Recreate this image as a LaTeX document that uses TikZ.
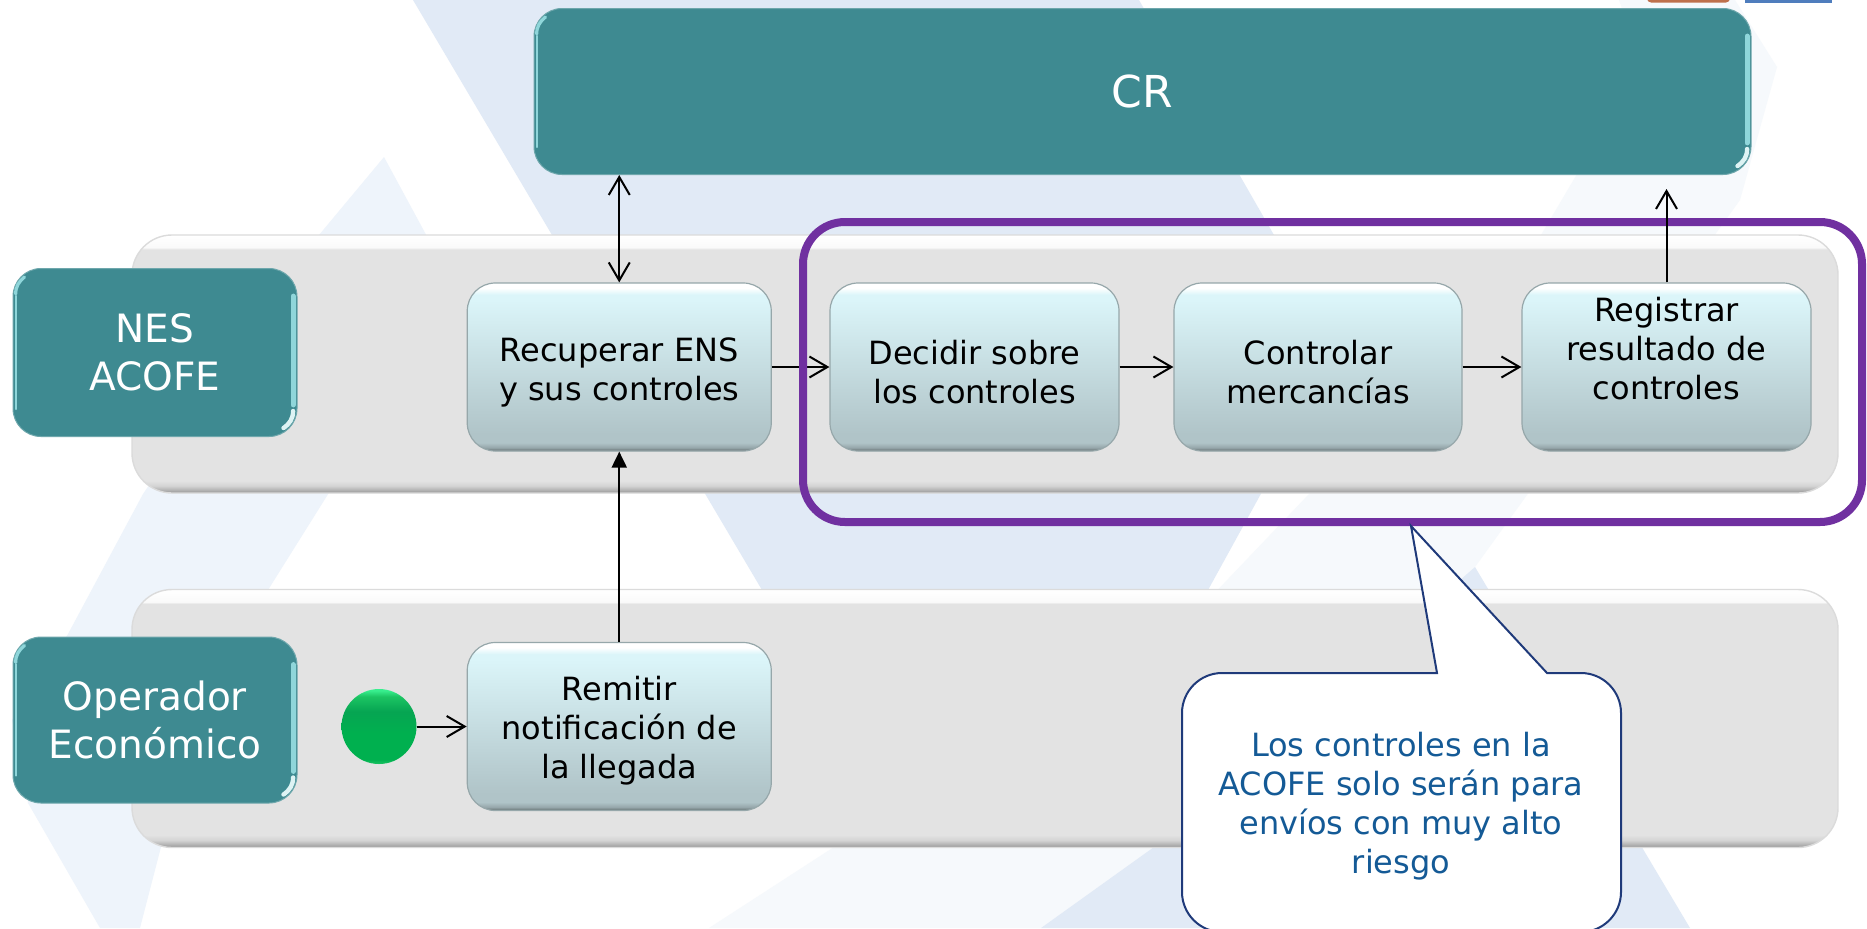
\documentclass[tikz,border=0pt]{standalone}
\usepackage{fontspec}
\setmainfont{DejaVu Sans}
\usetikzlibrary{arrows.meta}
\definecolor{bgdark}{HTML}{E1EAF6}
\definecolor{bgmid}{HTML}{EEF4FB}
\definecolor{bgfaint}{HTML}{F6F9FC}
\definecolor{teal}{HTML}{3E8A91}
\definecolor{tealhi}{HTML}{8FD6DA}
\definecolor{purp}{HTML}{7030A0}
\definecolor{calloutline}{HTML}{1F3A7A}
\definecolor{callouttext}{HTML}{145A96}
\definecolor{gA}{HTML}{1CC463}
\definecolor{gB}{HTML}{00B04F}
\definecolor{gC}{HTML}{06A552}
\definecolor{gD}{HTML}{38EE8E}
\definecolor{lt}{HTML}{DBF5F9}
\definecolor{lb}{HTML}{B0C4C8}
\pgfdeclareverticalshading{laneshade}{100bp}{
 color(0bp)=(black!40); color(25bp)=(black!42); color(25.6bp)=(black!30); color(26.4bp)=(black!17);
 color(27.4bp)=(black!11); color(72.2bp)=(black!11); color(72.6bp)=(black!2); color(75bp)=(white); color(100bp)=(white)}
\pgfdeclareverticalshading{boxshade}{100bp}{
 color(0bp)=(black!55!lb); color(25bp)=(black!45!lb); color(26bp)=(black!15!lb); color(27.5bp)=(lb);
 color(30bp)=(lb); color(70bp)=(lt); color(71.5bp)=(lt); color(73.5bp)=(white); color(100bp)=(white)}
\pgfdeclareverticalshading{greenshade}{100bp}{
 color(0bp)=(gA); color(25bp)=(gA); color(28bp)=(gB); color(45bp)=(gB);
 color(60bp)=(gC); color(70bp)=(gA); color(74bp)=(gD); color(100bp)=(gD)}
\tikzset{
 x=0.5pt,y=-0.5pt,
 lanebox/.style={draw=black!14,line width=0.7pt,rounded corners=20pt,shading=laneshade,minimum width=853pt,minimum height=129pt,inner sep=0pt},
 tealbox/.style={fill=teal,draw=teal!75!white,line width=0.5pt,rounded corners=14pt,text=white,align=center,font=\fontsize{19.5}{24}\selectfont,inner sep=0pt},
 lightbox/.style={draw=black!15!lb,line width=0.6pt,rounded corners=14pt,shading=boxshade,inner sep=0pt,minimum height=84pt},
 lighttext/.style={align=center,font=\fontsize{16}{19.5}\selectfont,inner sep=0pt},
 startdot/.style={circle,shading=greenshade,minimum size=37.5pt,inner sep=0pt},
 openarrow/.style={draw=black,line width=1pt,-{Straight Barb[length=9pt,width=10.5pt,line width=1pt]}},
 bothopen/.style={draw=black,line width=1pt,{Straight Barb[length=9pt,width=10.5pt,line width=1pt]}-{Straight Barb[length=9pt,width=10.5pt,line width=1pt]}},
 solidarrow/.style={draw=black,line width=1pt,-{Triangle[length=8pt,width=7.5pt]}},
 stripe/.style={draw=tealhi,line width=2.4pt,line cap=round},
 glint/.style={draw=white!70!tealhi,line width=2.2pt,line cap=round},
 focusframe/.style={draw=purp,line width=4pt,rounded corners=21pt,minimum width=529.5pt,minimum height=150pt,inner sep=0pt},
 calloutshape/.style={draw=calloutline,line width=1pt,fill=white},
 callouttxt/.style={text=callouttext,align=center,font=\fontsize{16}{19.4}\selectfont,inner sep=0pt},
}
\newcommand{\tealshine}[1]{%
 \draw[stripe] ([xshift=-2.2pt,yshift=-14pt]#1.north east) -- ([xshift=-2.2pt,yshift=16pt]#1.south east);
 \draw[glint] ([xshift=-2.2pt,yshift=13pt]#1.south east) to[out=-90,in=35] ([xshift=-7pt,yshift=4.5pt]#1.south east);
 \draw[draw=tealhi,line width=1.2pt,line cap=round] ([xshift=1.6pt,yshift=-14pt]#1.north west) -- ([xshift=1.6pt,yshift=14pt]#1.south west);
 \draw[draw=tealhi,line width=1.6pt,line cap=round] ([xshift=1.6pt,yshift=-13pt]#1.north west) to[out=90,in=-140] ([xshift=6pt,yshift=-4.5pt]#1.north west);
}
\begin{document}
\begin{tikzpicture}
\path[use as bounding box,clip] (0,0) rectangle (1867,928);
\fill[white] (0,0) rectangle (1867,928);
% background
\fill[bgfaint] (1619,0) -- (1735,0) -- (1777,67) -- (1740,200) -- (1475,567) -- (1450,600) -- (1208,600) -- (1309,494) -- (1541,235) -- (1577,174) -- (1640,60) -- cycle;
\fill[bgfaint] (709,928) -- (834,847) -- (1154,847) -- (1041,928) -- cycle;
\fill[bgmid] (384,157) -- (456,290) -- (268,590) -- (161,847) -- (140,928) -- (100,928) -- (28,803) -- (12,720) -- (68,634) -- (143,494) -- (319,235) -- cycle;
\fill[bgdark] (413,0) -- (1139,0) -- (1340,350) -- (1208,590) -- (1000,800) -- (800,800) -- (762,590) -- cycle;
\fill[bgdark] (1041,928) -- (1154,847) -- (1475,567) -- (1690,928) -- cycle;
% top-right cut-off shapes
\fill[fill={rgb,255:red,190;green,112;blue,76},rounded corners=2pt] (1647,-10) rectangle (1730,2.5);
\fill[fill={rgb,255:red,79;green,125;blue,189}] (1745,-10) rectangle (1832,2.5);
% lanes
\node[lanebox] (laneA) at (985,364) {};
\node[lanebox] (laneB) at (985,718.5) {};
% main boxes
\node[tealbox,minimum width=608.5pt,minimum height=83pt,font=\fontsize{22}{26}\selectfont] (cr) at (1142.5,91.5) {CR};
\node[tealbox,minimum width=142pt,minimum height=84pt] (nes) at (155,352.5) {NES\\ACOFE};
\node[tealbox,minimum width=142pt,minimum height=83pt] (oper) at (155,720) {Operador\\Económico};
\tealshine{cr}\tealshine{nes}\tealshine{oper}
\node[lightbox,minimum width=152pt] (rec) at (619.25,367) {};
\node[lightbox,minimum width=144.5pt] (dec) at (974.5,367) {};
\node[lightbox,minimum width=144pt] (con) at (1318,367) {};
\node[lightbox,minimum width=144.5pt] (reg) at (1666.5,367) {};
\node[lightbox,minimum width=152pt] (rem) at (619.25,726.5) {};
\node[lighttext] (rectext) at (619.25,372) {Recuperar ENS\\y sus controles};
\node[lighttext] (dectext) at (974.5,372) {Decidir sobre\\los controles};
\node[lighttext] (context) at (1318,372) {Controlar\\mercancías};
\node[lighttext] (regtext) at (1666.5,349) {Registrar\\resultado de\\controles};
\node[lighttext] (remtext) at (619.25,730.5) {Remitir\\notificación de\\la llegada};
\node[startdot] (start) at (379,726.5) {};
\coordinate (regtop) at (1666.5,189);
% connectors
\draw[bothopen] (rec.north) -- (rec.north |- cr.south);
\draw[openarrow] (rec.east) -- (dec.west);
\draw[openarrow] (dec.east) -- (con.west);
\draw[openarrow] (con.east) -- (reg.west);
\draw[solidarrow] (rem.north) -- (rec.south);
\draw[openarrow] (start.east) -- (rem.west);
% focus frame
\node[focusframe] (frame) at (1332.5,372) {};
\draw[openarrow] (reg.north) -- (regtop);
% callout
\draw[calloutshape] (1437,673) -- (1222,673) .. controls (1200,673) and (1182,691) .. (1182,713) -- (1182,892) .. controls (1182,914) and (1200,932) .. (1222,932) -- (1581,932) .. controls (1603,932) and (1621,914) .. (1621,892) -- (1621,713) .. controls (1621,691) and (1603,673) .. (1581,673) -- (1547,673) -- (1411,526) -- cycle;
\node[callouttxt] (note) at (1401,806) {Los controles en la\\ACOFE solo serán para\\envíos con muy alto\\riesgo};
\end{tikzpicture}
\end{document}
